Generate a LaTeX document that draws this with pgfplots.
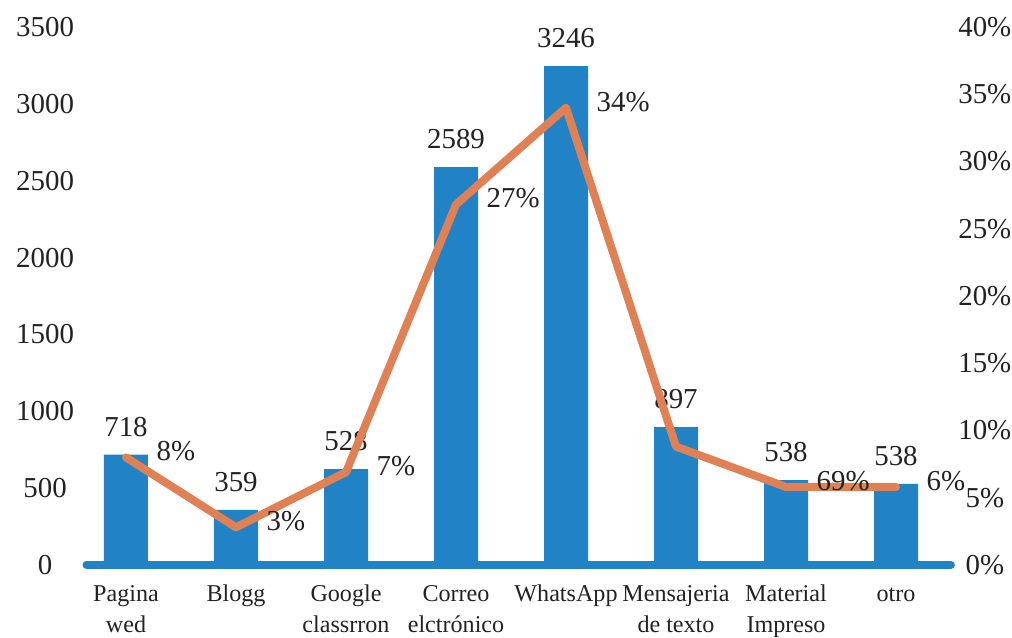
\documentclass[border=0pt]{standalone}
\usepackage{pgfplots}
\pgfplotsset{compat=1.18}
\usepackage{fontspec}
\setmainfont{Liberation Serif}
\definecolor{barblue}{HTML}{2183C6}
\definecolor{lineorange}{HTML}{DF8155}
\definecolor{txt}{HTML}{222222}
\newcommand{\numfont}{\fontsize{14.5}{17}\selectfont}
\newcommand{\catfont}{\fontsize{12.1}{15.5}\selectfont}
\pgfplotsset{
  base/.style={
    scale only axis, width=437.25bp, height=269bp,
    xmin=-0.47, xmax=7.48, clip=false,
    axis line style={draw=none}, major tick length=0pt,
    /pgf/number format/assume math mode=true,
    /pgf/number format/1000 sep={},
    scaled y ticks=false,
    tick label style={font=\numfont, text=txt},
    nodes near coords, point meta=explicit symbolic,
  },
}
\begin{document}
\begin{tikzpicture}
\path[use as bounding box] (-37.15bp,-36.5bp) rectangle (468.85bp,282.5bp);
\begin{axis}[base,
  ymin=0, ymax=3500, ytick={0,500,...,3500},
  yticklabel style={anchor=center, xshift=-14.6bp},
  xtick={0,...,7},
  xticklabels={{\strut Pagina\\wed},{\strut Blogg},{\strut Google\\classrron},{\strut Correo\\elctrónico},{\strut WhatsApp},{\strut Mensajeria\\de texto},{\strut Material\\Impreso},{\strut otro}},
  xticklabel style={font=\catfont, align=center, yshift=-4bp},
  ybar, bar width=22bp,
  every node near coord/.append style={font=\numfont, text=txt, yshift=5.5bp},
]
\addplot[fill=barblue, draw=none, bar shift=0pt] coordinates {
  (0,718)[718] (1,359)[359] (2,623)[528] (3,2589)[2589]
  (4,3246)[3246] (5,897)[897] (6,552)[538] (7,527)[538]
};
\draw[barblue, line width=3.9bp, line cap=round] (axis cs:-0.36,0) -- (axis cs:7.5,0);
\end{axis}
\begin{axis}[base,
  ymin=0, ymax=40, ytick={0,5,...,40},
  yticklabel pos=right,
  yticklabel={\pgfmathprintnumber{\tick}\%},
  yticklabel style={anchor=center, xshift=18bp},
  xtick=\empty,
  every node near coord/.append style={font=\numfont, text=txt, anchor=west, xshift=10bp, yshift=3bp},
]
\addplot[lineorange, line width=4bp, line join=round, line cap=round, no markers] coordinates {
  (0,8.0)[8\%] (1,2.8)[3\%] (2,6.9)[7\%] (3,26.8)[27\%]
  (4,34.0)[34\%] (5,8.8)[\mbox{}] (6,5.8)[69\%] (7,5.8)[6\%]
};
\end{axis}
\end{tikzpicture}
\end{document}
